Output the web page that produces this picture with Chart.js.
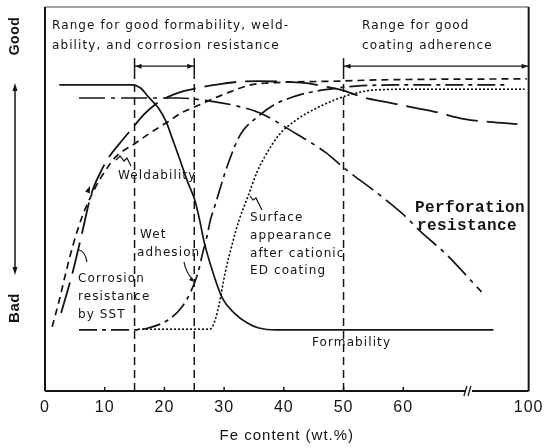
<!DOCTYPE html>
<html><head><meta charset="utf-8">
<script src="https://cdn.jsdelivr.net/npm/chart.js@4/dist/chart.umd.min.js"></script>
<style>html,body{margin:0;padding:0;background:#fff;}canvas{display:block}</style>
</head><body>
<canvas id="c" width="549" height="448"></canvas>
<script>
// Broken Fe axis: positions 0..60 are linear, the right end (81) carries the label 100
const tickPositions = [0, 10, 20, 30, 40, 50, 60, 81];
const tickLabels = ['0', '10', '20', '30', '40', '50', '60', '100'];
const axisBreakAt = 71;

// Quality scale: 0 = bad, 100 = good
const formabilityX = [2.4, 14.5, 16.0, 17.3, 19.0, 20.3, 21.4, 22.6, 23.9, 25.1, 25.9, 26.7, 28.1, 29.7, 31.7, 33.9, 35.8, 38.8, 75.1];
const formabilityY = [79.7, 79.7, 78.9, 76.6, 73.7, 70.1, 65.4, 60.2, 54.4, 49.7, 44.5, 38.5, 31.0, 24.2, 20.3, 17.7, 16.4, 15.9, 15.9];

const perforationX = [5.7, 22.3, 27.7, 32.2, 36.0, 41.0, 47.1, 49.9, 56.5, 59.9, 63.2, 67.0, 73.1];
const perforationY = [76.3, 76.3, 75.5, 74.2, 72.4, 68.0, 62.0, 58.3, 50.5, 46.1, 41.1, 35.9, 25.8];

const weldabilityX = [1.2, 2.4, 3.6, 4.6, 6.2, 8.2, 10.2, 11.8, 15.2, 17.8, 20.6, 22.8, 25.1, 28.9, 31.0, 34.4, 37.2, 42.1, 49.3, 55.4, 80.7];
const weldabilityY = [16.7, 23.7, 31.5, 37.5, 45.3, 52.3, 57.6, 60.9, 64.6, 67.4, 70.1, 72.4, 74.0, 76.6, 77.9, 79.7, 80.2, 80.5, 80.7, 81.0, 81.3];

const corrosionX = [2.7, 4.6, 6.2, 7.7, 9.5, 10.7, 12.3, 14.5, 16.5, 18.5, 20.6, 22.8, 25.6, 28.4, 32.2, 35.8, 40.5, 43.8, 47.1, 49.6, 53.7, 57.0, 62.0, 65.3, 70.3, 74.4, 79.1];
const corrosionY = [20.3, 30.7, 41.1, 51.0, 57.6, 60.9, 64.1, 68.2, 71.9, 74.7, 76.6, 77.9, 78.9, 79.7, 80.5, 80.7, 80.5, 80.2, 79.2, 78.4, 76.3, 75.3, 73.7, 72.7, 70.8, 70.1, 69.5];

const wetAdhesionX = [5.7, 15.0, 17.3, 20.6, 22.8, 24.4, 25.6, 26.4, 27.1, 27.7, 28.6, 30.6, 32.7, 36.0, 38.3, 41.0, 43.8, 47.6, 52.1, 58.7, 77.7];
const wetAdhesionY = [15.9, 15.9, 16.4, 18.5, 21.6, 25.8, 30.7, 35.9, 40.1, 44.5, 49.0, 58.9, 66.7, 71.9, 74.5, 76.3, 77.6, 78.6, 79.4, 79.7, 79.7];

const surfaceX = [15.7, 27.6, 28.6, 29.2, 30.2, 31.4, 32.5, 33.9, 35.5, 36.7, 39.2, 42.1, 45.9, 50.9, 55.4, 62.0, 80.2];
const surfaceY = [16.1, 16.1, 19.0, 22.9, 31.0, 38.5, 44.5, 50.3, 57.0, 60.7, 66.7, 70.6, 74.0, 77.1, 78.4, 78.6, 78.6];

// Ranges (Fe wt.%)
const goodRange = [15, 25];
const coatingRange = [50, 81];
const rangeLineTop = 82.3;
const bracketLevel = 84.6;

const INK = '#141414';
const pts = (xs, ys) => xs.map((x, i) => ({ x, y: ys[i] }));
const curve = (label, xs, ys, dash, w, extra) => Object.assign({
  label, data: pts(xs, ys), borderColor: INK, borderWidth: w || 1.7, borderDash: dash,
  pointRadius: 0, fill: false, cubicInterpolationMode: 'monotone'
}, extra || {});

const datasets = [
  curve('Formability', formabilityX, formabilityY, [], 1.7),
  curve('Perforation resistance', perforationX, perforationY, [26, 6, 4, 6], 1.7),
  curve('Weldability', weldabilityX, weldabilityY, [7, 5], 1.7),
  curve('Corrosion resistance by SST', corrosionX, corrosionY, [32, 9], 1.8),
  curve('Wet adhesion', wetAdhesionX, wetAdhesionY, [18, 5, 4, 5], 1.7),
  curve('Surface appearance after cationic ED coating', surfaceX, surfaceY, [0.5, 3.5], 1.8, { borderCapStyle: 'round' }),
];
goodRange.concat([coatingRange[0]]).forEach(fe => {
  datasets.push({ label: 'range ' + fe, data: [{ x: fe, y: 0 }, { x: fe, y: rangeLineTop }],
    borderColor: INK, borderWidth: 1.5, borderDash: [8, 5], pointRadius: 0, tension: 0 });
});

const FONT = '"DejaVu Sans", "Liberation Sans", sans-serif';
const AXFONT = '"Liberation Sans", Arial, sans-serif';

function arrowHead(ctx, x, y, ang, len, wid) {
  ctx.save(); ctx.translate(x, y); ctx.rotate(ang);
  ctx.beginPath(); ctx.moveTo(0, 0); ctx.lineTo(-len, -wid); ctx.lineTo(-len, wid); ctx.closePath(); ctx.fill();
  ctx.restore();
}
function text(ctx, s, x, y, size, spacing, fam, weight) {
  ctx.font = (weight || 'normal') + ' ' + size + 'px ' + (fam || FONT);
  ctx.letterSpacing = (spacing || 0) + 'px';
  ctx.fillText(s, x, y);
}

const spacing = {
  id: 'spacing',
  beforeDraw(chart) { chart.ctx.letterSpacing = '1px'; }
};

const decor = {
  id: 'decor',
  afterDatasetsDraw(chart) {
    const { ctx, chartArea: a, scales: { x, y } } = chart;
    ctx.save();
    ctx.strokeStyle = INK; ctx.fillStyle = INK; ctx.setLineDash([]);
    // frame
    ctx.lineWidth = 1; ctx.strokeStyle = '#444';
    ctx.beginPath(); ctx.moveTo(a.left, a.top); ctx.lineTo(a.right, a.top); ctx.stroke();
    ctx.strokeStyle = INK; ctx.lineWidth = 2;
    ctx.beginPath(); ctx.moveTo(a.left, a.top); ctx.lineTo(a.left, a.bottom); ctx.stroke();
    ctx.beginPath(); ctx.moveTo(a.right, a.top); ctx.lineTo(a.right, a.bottom); ctx.stroke();
    const bx = x.getPixelForValue(axisBreakAt);
    ctx.beginPath(); ctx.moveTo(a.left, a.bottom); ctx.lineTo(bx - 4, a.bottom);
    ctx.moveTo(bx + 3, a.bottom); ctx.lineTo(a.right, a.bottom); ctx.stroke();
    ctx.lineWidth = 1.3;
    ctx.beginPath();
    ctx.moveTo(bx - 5, a.bottom + 5); ctx.lineTo(bx - 2, a.bottom - 5);
    ctx.moveTo(bx - 1, a.bottom + 5); ctx.lineTo(bx + 2, a.bottom - 5);
    ctx.stroke();
    // inward tick marks
    ctx.lineWidth = 1.5;
    tickPositions.slice(1, 7).forEach(v => {
      const px = x.getPixelForValue(v);
      ctx.beginPath(); ctx.moveTo(px, a.bottom); ctx.lineTo(px, a.bottom - 4); ctx.stroke();
    });
    // range brackets
    const by = y.getPixelForValue(bracketLevel);
    const yTop = by - 8, yBot = y.getPixelForValue(rangeLineTop);
    ctx.lineWidth = 1.5;
    const g0 = x.getPixelForValue(goodRange[0]), g1 = x.getPixelForValue(goodRange[1]);
    const c0 = x.getPixelForValue(coatingRange[0]), c1 = x.getPixelForValue(coatingRange[1]);
    [g0, g1, c0].forEach(px => { ctx.beginPath(); ctx.moveTo(px, yTop); ctx.lineTo(px, yBot); ctx.stroke(); });
    ctx.lineWidth = 1.3;
    ctx.beginPath(); ctx.moveTo(g0, by); ctx.lineTo(g1, by); ctx.stroke();
    arrowHead(ctx, g0 + 1, by, Math.PI, 6, 2.5); arrowHead(ctx, g1 - 1, by, 0, 6, 2.5);
    ctx.beginPath(); ctx.moveTo(c0, by); ctx.lineTo(c1, by); ctx.stroke();
    arrowHead(ctx, c0 + 1, by, Math.PI, 6, 2.5); arrowHead(ctx, c1 - 1, by, 0, 6, 2.5);
    // Good / Bad arrow
    ctx.lineWidth = 1.5;
    ctx.beginPath(); ctx.moveTo(15, 90); ctx.lineTo(15, 268); ctx.stroke();
    arrowHead(ctx, 15, 83, -Math.PI / 2, 8, 2.5); arrowHead(ctx, 15, 275, Math.PI / 2, 8, 2.5);
    ctx.textBaseline = 'middle'; ctx.textAlign = 'center';
    ctx.save(); ctx.translate(15, 36); ctx.rotate(-Math.PI / 2); text(ctx, 'Good', 0, 0, 14, 0.5, AXFONT, 'bold'); ctx.restore();
    ctx.save(); ctx.translate(15, 308); ctx.rotate(-Math.PI / 2); text(ctx, 'Bad', 0, 0, 15, 0.5, AXFONT, 'bold'); ctx.restore();
    // annotations
    ctx.textAlign = 'left';
    const S = 12, SP = 1.1;
    text(ctx, 'Range for good formability, weld-', 52, 26, S, SP);
    text(ctx, 'ability, and corrosion resistance', 52, 46, S, SP);
    text(ctx, 'Range for good', 362, 26, S, SP);
    text(ctx, 'coating adherence', 362, 46, S, SP);
    text(ctx, 'Weldability', 118, 176, S, SP);
    text(ctx, 'Wet', 140, 235, S, SP);
    text(ctx, 'adhesion', 137, 253, S, SP);
    text(ctx, 'Corrosion', 78, 279, S, SP);
    text(ctx, 'resistance', 78, 297, S, SP);
    text(ctx, 'by SST', 78, 315, S, SP);
    text(ctx, 'Surface', 250, 218, S, SP);
    text(ctx, 'appearance', 250, 236, S, SP);
    text(ctx, 'after cationic', 250, 254, S, SP);
    text(ctx, 'ED coating', 250, 271, S, SP);
    text(ctx, 'Formability', 312, 343, S, SP);
    const MONO = '"Liberation Mono", "DejaVu Sans Mono", monospace';
    text(ctx, 'Perforation', 415, 208, 16, 0.4, MONO, 'bold');
    text(ctx, 'resistance', 417, 226, 16, 0.4, MONO, 'bold');
    // leader marks
    ctx.lineWidth = 1.2; ctx.setLineDash([]);
    ctx.beginPath(); ctx.moveTo(116, 160); ctx.lineTo(120, 156); ctx.lineTo(124, 161); ctx.lineTo(127, 158); ctx.lineTo(131, 166); ctx.stroke();
    ctx.beginPath(); ctx.moveTo(79, 250); ctx.quadraticCurveTo(85, 251, 87, 262); ctx.stroke();
    ctx.beginPath(); ctx.moveTo(184, 262); ctx.quadraticCurveTo(186, 273, 193, 280); ctx.stroke();
    arrowHead(ctx, 194, 282, Math.PI / 4, 5, 2);
    ctx.beginPath(); ctx.moveTo(250, 196); ctx.lineTo(253, 200); ctx.lineTo(256, 198); ctx.lineTo(262, 210); ctx.stroke();
    arrowHead(ctx, 90, 186, -1.2, 7, 2.5);
    ctx.restore();
  }
};

new Chart(document.getElementById('c'), {
  type: 'line',
  data: { datasets },
  options: {
    responsive: false, animation: false, devicePixelRatio: 1,
    layout: { padding: { left: 45, right: 16, top: 7, bottom: 0 } },
    plugins: { legend: { display: false }, tooltip: { enabled: false } },
    scales: {
      x: {
        type: 'linear', min: 0, max: 81,
        afterBuildTicks: s => { s.ticks = tickPositions.map(v => ({ value: v })); },
        afterFit: s => { s.height = 57; },
        grid: { display: false, drawTicks: false },
        border: { display: false },
        ticks: {
          autoSkip: false, maxRotation: 0, padding: 7, color: INK,
          font: { family: AXFONT, size: 16 },
          callback: v => { const i = tickPositions.indexOf(v); return i >= 0 ? tickLabels[i] : ''; }
        },
        title: { display: true, text: 'Fe content (wt.%)', color: INK, font: { family: AXFONT, size: 15 }, padding: { top: 0, bottom: 3 } }
      },
      y: { type: 'linear', min: 0, max: 100, display: false }
    }
  },
  plugins: [spacing, decor]
});
</script>
</body></html>
